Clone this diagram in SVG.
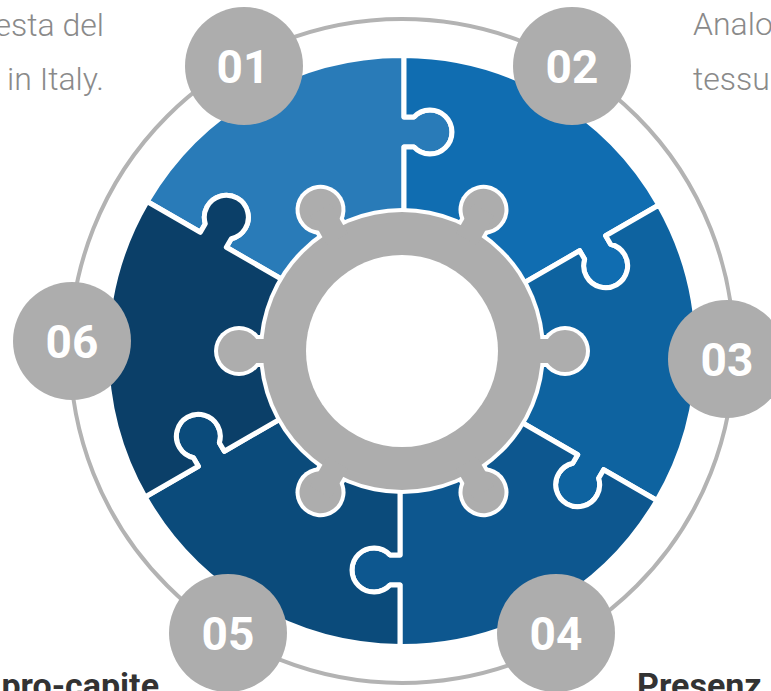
<svg xmlns="http://www.w3.org/2000/svg" xmlns:xlink="http://www.w3.org/1999/xlink" width="771" height="691" viewBox="0 0 771 691">
<style>
.piece{stroke:#fff;stroke-width:5;stroke-linejoin:round}
.badge{fill:#adadad}
.num{font-family:Roboto,"Liberation Sans",sans-serif;font-weight:700;font-size:46px;fill:#fff;text-anchor:middle}
.light{font-family:Roboto,"Liberation Sans",sans-serif;font-weight:300;font-size:32px;fill:#8a8a8a}
.bold{font-family:Roboto,"Liberation Sans",sans-serif;font-weight:700;font-size:34px;fill:#333}
</style>
<defs>
<path id="piece" d="M403,349.27 L226.33,247.27 L231.28,238.69 A22,22 0 1 0 205.30,223.69 L200.35,232.27 L147.10,201.52 A295.5,295.5 0 0 1 404,55.51 L404,117 L413.9,117 A22,22 0 1 1 413.9,147 L404,147 L404,351 Z"/>
<g id="knobW"><circle cx="402" cy="188" r="25"/><rect x="386" y="188" width="32" height="28"/></g>
<g id="knobG"><circle cx="402" cy="188" r="21"/><rect x="390" y="188" width="24" height="34"/></g>
</defs>

<g id="outer-ring"><circle cx="402" cy="351" r="332" fill="none" stroke="#b3b3b3" stroke-width="4"/></g>

<g id="piece-01"><use xlink:href="#piece" class="piece" fill="#297bb8"/></g>
<g id="piece-02"><use xlink:href="#piece" class="piece" fill="#106db1" transform="rotate(60 402 351)"/></g>
<g id="piece-03"><use xlink:href="#piece" class="piece" fill="#0e63a0" transform="rotate(120 402 351)"/></g>
<g id="piece-04"><use xlink:href="#piece" class="piece" fill="#0d578f" transform="rotate(180 402 351)"/></g>
<g id="piece-05"><use xlink:href="#piece" class="piece" fill="#0b4b7b" transform="rotate(240 402 351)"/></g>
<g id="piece-06"><use xlink:href="#piece" class="piece" fill="#0b3f68" transform="rotate(300 402 351)"/></g>

<g id="hub">
<g fill="#fff">
<circle cx="402" cy="351" r="143"/>
<use xlink:href="#knobW" transform="rotate(30 402 351)"/>
<use xlink:href="#knobW" transform="rotate(90 402 351)"/>
<use xlink:href="#knobW" transform="rotate(150 402 351)"/>
<use xlink:href="#knobW" transform="rotate(210 402 351)"/>
<use xlink:href="#knobW" transform="rotate(270 402 351)"/>
<use xlink:href="#knobW" transform="rotate(330 402 351)"/>
</g>
<g fill="#adadad">
<circle cx="402" cy="351" r="139"/>
<use xlink:href="#knobG" transform="rotate(30 402 351)"/>
<use xlink:href="#knobG" transform="rotate(90 402 351)"/>
<use xlink:href="#knobG" transform="rotate(150 402 351)"/>
<use xlink:href="#knobG" transform="rotate(210 402 351)"/>
<use xlink:href="#knobG" transform="rotate(270 402 351)"/>
<use xlink:href="#knobG" transform="rotate(330 402 351)"/>
</g>
<circle cx="402" cy="351" r="96" fill="#fff"/>
</g>

<g id="badge-01"><circle class="badge" cx="244" cy="66" r="59"/><text class="num" x="243" y="83">01</text></g>
<g id="badge-02"><circle class="badge" cx="572" cy="66" r="59"/><text class="num" x="572" y="83">02</text></g>
<g id="badge-03"><circle class="badge" cx="727" cy="359" r="59"/><text class="num" x="727" y="376">03</text></g>
<g id="badge-04"><circle class="badge" cx="556" cy="633" r="59"/><text class="num" x="556" y="650">04</text></g>
<g id="badge-05"><circle class="badge" cx="228" cy="633" r="59"/><text class="num" x="228" y="650">05</text></g>
<g id="badge-06"><circle class="badge" cx="72" cy="341" r="59"/><text class="num" x="72" y="358">06</text></g>

<g id="texts">
<text class="light" x="104" y="36" text-anchor="end">esta del</text>
<text class="light" x="104" y="90" text-anchor="end">in Italy.</text>
<text class="light" x="693" y="35">Analo</text>
<text class="light" x="693" y="90">tessu</text>
<text class="bold" x="159" y="697" text-anchor="end">pro-capite</text>
<text class="bold" x="637" y="697">Presenz</text>
</g>
</svg>
